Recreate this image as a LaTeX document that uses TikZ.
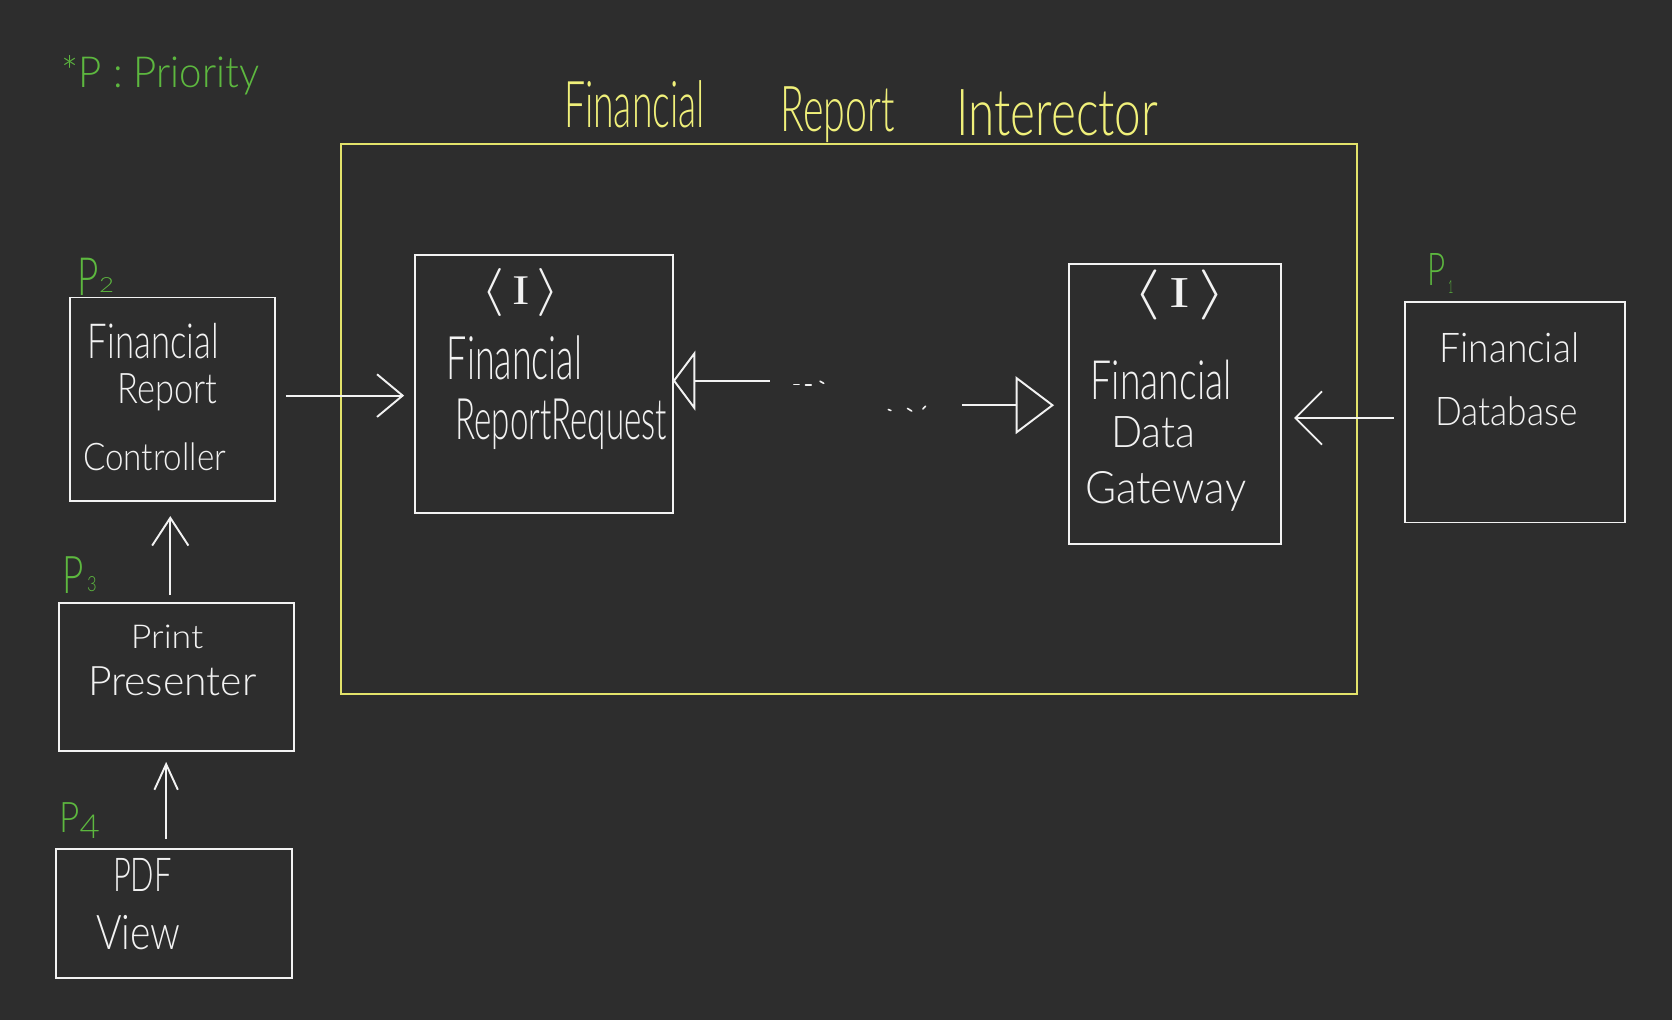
\documentclass[tikz,border=0pt]{standalone}
\usepackage{fontspec}
\usetikzlibrary{arrows.meta}
\setmainfont{Lato}
\newfontfamily\hand{Lato Light}
\newfontfamily\serifI{Liberation Serif}
\definecolor{bg}{HTML}{2D2D2D}
\definecolor{ink}{HTML}{F2F2F2}
\definecolor{grn}{HTML}{5DB83F}
\definecolor{ylw}{HTML}{E2E26A}
\definecolor{ylwtxt}{HTML}{F0F07A}
\newcommand\hw[3]{\resizebox{#1pt}{#2pt}{\hand #3}}
\newcommand\ibr[2]{\resizebox*{#1pt}{#2pt}{$\langle$\hspace{1.2pt}{\serifI\fontsize{8.8}{8.8}\selectfont I}\hspace{1.2pt}$\rangle$}}
\begin{document}
\begin{tikzpicture}[x=1pt,y=-1pt,
  box/.style={draw=ink,line width=1.8pt,inner sep=0pt,outer sep=0pt},
  frame/.style={draw=ylw,line width=1.8pt,inner sep=0pt,outer sep=0pt},
  txt/.style={inner sep=0pt,outer sep=0pt,anchor=base west,text=ink},
  gtxt/.style={txt,text=grn},
  ytxt/.style={txt,text=ylwtxt},
  ctxt/.style={inner sep=0pt,outer sep=0pt,anchor=center,text=ink},
  conn/.style={draw=ink,line width=1.8pt},
  dots/.style={draw=ink,line width=1.5pt,line cap=round}
]
\fill[bg] (0,0) rectangle (1568,957);
\useasboundingbox (0,0) rectangle (1568,957);

% legend
\node[gtxt] (legend) at (58,82) {\hw{185}{30}{*P : Priority}};

% title and frame
\node[ytxt] (t1) at (529,120) {\hw{132}{44}{Financial}};
\node[ytxt] (t2) at (732,123) {\hw{107}{42}{Report}};
\node[ytxt] (t3) at (897,127) {\hw{189}{43}{Interector}};
\node[frame,minimum width=953pt,minimum height=516pt] (FRI) at (796.5,393) {};

% boxes
\node[box,minimum width=192pt,minimum height=191pt] (FRC) at (162,374.5) {};
\node[box,minimum width=242pt,minimum height=242pt] (FRR) at (510,360) {};
\node[box,minimum width=199pt,minimum height=262pt] (FDG) at (1102,379) {};
\node[box,minimum width=206pt,minimum height=207pt] (FD) at (1421,386.5) {};
\node[box,minimum width=221pt,minimum height=139pt] (PP) at (165.5,635) {};
\node[box,minimum width=221pt,minimum height=121pt] (PDF) at (163,857) {};

% FRC text
\node[txt] (frc1) at (82.5,336) {\hw{122.5}{33}{Financial}};
\node[txt] (frc2) at (110.5,378) {\hw{93.5}{28}{Report}};
\node[txt] (frc3) at (78,441.5) {\hw{134}{26}{Controller}};
\node[gtxt] (p2a) at (73,277) {\hw{20}{35}{P}};
\node[gtxt] (p2b) at (93,274) {\hw{14}{14}{2}};

% FRR text
\node[ctxt] (frri) at (488.5,274.5) {\ibr{73}{45}};
\node[txt] (frr1) at (419,356) {\hw{127}{41}{Financial}};
\node[txt] (frr2) at (427,412) {\hw{198.5}{38}{ReportRequest}};

% FDG text
\node[ctxt] (fdgi) at (1106,277) {\ibr{86}{47}};
\node[txt] (fdg1) at (1023,375) {\hw{132}{37}{Financial}};
\node[txt] (fdg2) at (1042,420) {\hw{79}{29}{Data}};
\node[txt] (fdg3) at (1017.6,472) {\hw{151}{30}{Gateway}};

% FD text
\node[txt] (fd1) at (1350,340) {\hw{131}{28}{Financial}};
\node[txt] (fd2) at (1346,398.6) {\hw{133.5}{27}{Database}};
\node[gtxt] (p1a) at (1339,268) {\hw{17}{30}{P}};
\node[gtxt] (p1b) at (1358,275) {\hw{5}{12}{1}};

% PP text
\node[txt] (pp1) at (122.7,608) {\hw{68}{22}{Print}};
\node[txt] (pp2) at (82.6,652) {\hw{158}{27}{Presenter}};
\node[gtxt] (p3a) at (59,557) {\hw{20}{34.5}{P}};
\node[gtxt] (p3b) at (81.8,555) {\hw{9}{14}{3}};

% PDF text
\node[txt] (pdf1) at (106,836) {\hw{55}{31}{PDF}};
\node[txt] (pdf2) at (90.4,890) {\hw{79}{32}{View}};
\node[gtxt] (p4a) at (55.6,781) {\hw{19}{28}{P}};
\node[gtxt] (p4b) at (74.6,786) {\hw{19}{22}{4}};

% connectors
\coordinate (a1s) at (268,371);
\draw[conn,-{Straight Barb[length=24pt,width=40pt]},shorten >=10pt] (a1s) -- (FRR.west |- a1s);
\coordinate (a2s) at (1307,392);
\draw[conn,-{Straight Barb[length=25pt,width=50pt]},shorten >=12pt] (a2s) -- (FDG.east |- a2s);
\coordinate (a3s) at (159.7,558);
\draw[conn,-{Straight Barb[length=26pt,width=34pt]},shorten >=14pt] (a3s) -- (a3s |- FRC.south);
\coordinate (a4s) at (155.8,787);
\draw[conn,-{Straight Barb[length=24pt,width=22pt]},shorten >=10pt] (a4s) -- (a4s |- PP.south);
\coordinate (t1s) at (722,357);
\draw[conn,-{Triangle[open,length=21pt,width=56pt]}] (t1s) -- (FRR.east |- t1s);
\coordinate (t2s) at (902,380);
\draw[conn,-{Triangle[open,length=36pt,width=54pt]},shorten >=14pt] (t2s) -- (FDG.west |- t2s);

% ellipsis marks
\draw[dots] (744.5,360.4) -- (749.3,360.4);
\draw[dots] (755.4,361.2) -- (760.7,361.2);
\draw[dots] (769,357.5) -- (772.5,359.5);
\draw[dots] (833,384) -- (835.5,385);
\draw[dots] (851,383) -- (855,385.5);
\draw[dots] (865.5,383.5) -- (868,381);
\end{tikzpicture}
\end{document}
